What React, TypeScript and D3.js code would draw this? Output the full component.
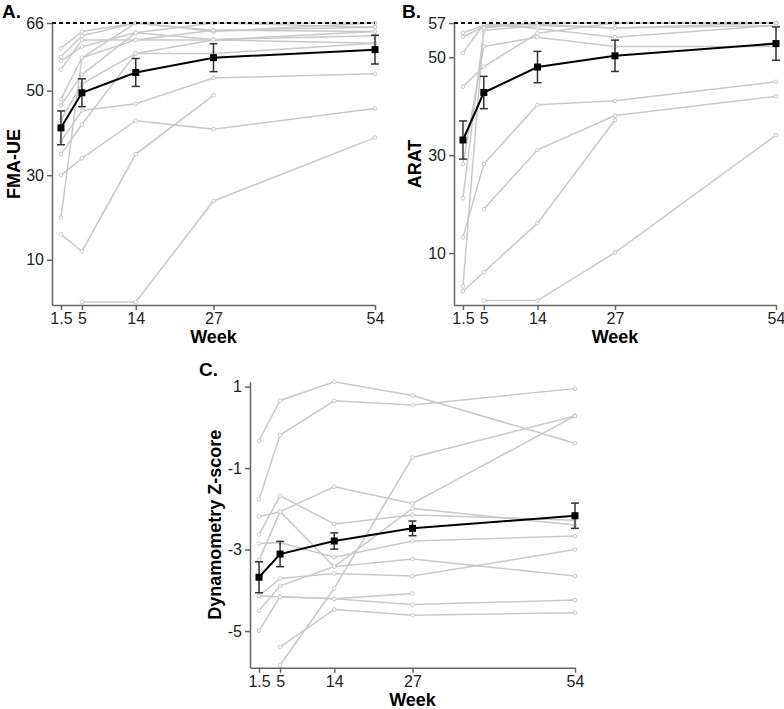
import React, { useRef, useEffect } from "react";
import * as d3 from "d3";

const weeks = [1.5, 5, 14, 27, 54];

// FMA-UE (panel A)
const fmaTicks = [10, 30, 50, 66];
const fmaMean = [41.2, 49.5, 54.3, 57.8, 59.7];
const fmaErr = [4.0, 3.3, 3.3, 3.3, 3.4];
const fmaSubjects: (number | null)[][] = [
  [60, 64, 66, 66, 66],
  [58, 63, 66, 64, 66],
  [57, 60.4, 63.7, 66, 65],
  [55, 62, 62, 62, 64],
  [48, 57.8, 66, 64.3, 65],
  [46.5, 53.8, 63.7, 62.1, 63],
  [43, 51.6, 58.8, 62, 61.2],
  [38, 45.3, 46.9, 53, 54],
  [35, 42, 58.8, 58.8, 61.2],
  [30, 34, 42.9, 40.9, 45.8],
  [20, 57.8, 62, 64.3, 64],
  [16, 12, 35, 48.9, null],
  [null, 0, 0, 23.9, 38.9],
];

// ARAT (panel B)
const aratTicks = [10, 30, 50, 57];
const aratMean = [33.1, 42.8, 48.0, 50.3, 52.8];
const aratErr = [3.9, 3.3, 3.2, 3.2, 3.4];
const aratSubjects: (number | null)[][] = [
  [55, 56.5, 57, 57, 57],
  [54.2, 56.2, 56.8, 56, 57],
  [50.9, 56.8, 55.9, 54.1, 56.5],
  [44, 48.1, 54.9, 57, 57],
  [28.2, 52.2, 54.1, 52.2, 52.2],
  [21.2, 55.5, 56.5, 56, 56.5],
  [13.2, 28.2, 40.3, 41.1, 45],
  [3.2, 56, 57, 57, 57],
  [2.2, 6.1, 16.1, 37.2, null],
  [null, 19, 31.1, 38.1, 42],
  [null, 0.3, 0.3, 10.1, 34.1],
];

// Dynamometry Z-score (panel C)
const dynTicks = [-5, -3, -1, 1];
const dynMean = [-3.68, -3.11, -2.79, -2.48, -2.17];
const dynErr = [0.38, 0.31, 0.2, 0.18, 0.31];
const dynSubjects: (number | null)[][] = [
  [-0.33, 0.66, 1.12, 0.78, -0.39],
  [-1.77, -0.19, 0.65, 0.55, 0.95],
  [-2.19, -2.07, -1.46, -1.87, 0.28],
  [null, -5.84, -3.95, -0.74, 0.28],
  [-2.63, -1.68, -2.37, -2.15, -2.28],
  [-2.85, -2.83, -3.19, -2.79, -2.67],
  [-3.26, -2.07, -3.42, -3.23, -3.65],
  [-4.14, -3.71, -3.59, -3.65, -3.0],
  [-4.5, -3.89, -3.42, -1.99, -2.4],
  [-4.99, -4.16, -4.21, -4.35, -4.24],
  [null, -5.39, -4.47, -4.61, -4.55],
  [-4.14, -4.16, -4.21, -4.08, null],
];

const font = "Arial, 'Liberation Sans', sans-serif";

const panels = [
  {
    tag: "A.", yTitle: "FMA-UE", subjects: fmaSubjects, mean: fmaMean, err: fmaErr,
    ticks: fmaTicks, yDomain: [-0.7, 66], ref: 66,
    left: 52, right: 375, top: 23, bottom: 305, tagX: 2, tagY: 18, titleX: 20,
  },
  {
    tag: "B.", yTitle: "ARAT", subjects: aratSubjects, mean: aratMean, err: aratErr,
    ticks: aratTicks, yDomain: [-0.6, 57], ref: 57,
    left: 454, right: 776, top: 23, bottom: 305, tagX: 402, tagY: 18, titleX: 421,
  },
  {
    tag: "C.", yTitle: "Dynamometry Z-score", subjects: dynSubjects, mean: dynMean, err: dynErr,
    ticks: dynTicks, yDomain: [-5.9, 1.12], ref: null,
    left: 250, right: 575, top: 381.7, bottom: 667.7, tagX: 199, tagY: 376, titleX: 221,
  },
];

export default function App() {
  const svgRef = useRef<SVGSVGElement>(null);

  useEffect(() => {
    const svg = d3.select(svgRef.current);
    svg.selectAll("*").remove();

    panels.forEach((p) => {
      const x = d3.scaleLinear().domain([0, 54]).range([p.left, p.right]);
      const y = d3.scaleLinear().domain(p.yDomain).range([p.bottom, p.top]);
      const g = svg.append("g");

      // individual subjects
      const line = d3
        .line<number | null>()
        .defined((d) => d !== null)
        .x((d, i) => x(weeks[i]))
        .y((d) => y(d as number));

      p.subjects.forEach((s) => {
        g.append("path")
          .attr("d", line(s))
          .attr("fill", "none")
          .attr("stroke", "#c9c9c9")
          .attr("stroke-width", 1.5);
        g.selectAll(null)
          .data(s.map((v, i) => ({ v, w: weeks[i] })).filter((d) => d.v !== null))
          .join("circle")
          .attr("cx", (d) => x(d.w))
          .attr("cy", (d) => y(d.v as number))
          .attr("r", 1.8)
          .attr("fill", "#fff")
          .attr("stroke", "#c9c9c9")
          .attr("stroke-width", 1);
      });

      // reference (max score)
      if (p.ref !== null) {
        g.append("line")
          .attr("x1", p.left)
          .attr("x2", p.right)
          .attr("y1", y(p.ref))
          .attr("y2", y(p.ref))
          .attr("stroke", "#000")
          .attr("stroke-width", 2)
          .attr("stroke-dasharray", "4,3");
      }

      // axes
      const yAxis = g
        .append("g")
        .attr("transform", `translate(${p.left},0)`)
        .call(
          d3.axisLeft(y).tickValues(p.ticks).tickSize(5).tickSizeOuter(0).tickPadding(3)
            .tickFormat((d) => String(d))
        );
      const xAxis = g
        .append("g")
        .attr("transform", `translate(0,${p.bottom})`)
        .call(
          d3.axisBottom(x).tickValues(weeks).tickSize(5).tickSizeOuter(0).tickPadding(3)
            .tickFormat((d) => String(d))
        );
      [yAxis, xAxis].forEach((a) => {
        a.selectAll("path, line").attr("stroke", "#666").attr("stroke-width", 1.5);
        a.selectAll("text").attr("font-family", font).attr("font-size", 16).attr("fill", "#222");
      });

      // mean line with error bars
      const meanLine = d3
        .line<number>()
        .x((d, i) => x(weeks[i]))
        .y((d) => y(d));
      g.append("path")
        .attr("d", meanLine(p.mean))
        .attr("fill", "none")
        .attr("stroke", "#000")
        .attr("stroke-width", 2);
      p.mean.forEach((m, i) => {
        const cx = x(weeks[i]);
        const lo = y(m - p.err[i]);
        const hi = y(m + p.err[i]);
        g.append("line").attr("x1", cx).attr("x2", cx).attr("y1", lo).attr("y2", hi)
          .attr("stroke", "#333").attr("stroke-width", 1.5);
        [lo, hi].forEach((yy) =>
          g.append("line").attr("x1", cx - 4).attr("x2", cx + 4).attr("y1", yy).attr("y2", yy)
            .attr("stroke", "#333").attr("stroke-width", 1.5)
        );
        g.append("rect").attr("x", cx - 3.5).attr("y", y(m) - 3.5)
          .attr("width", 7).attr("height", 7).attr("fill", "#000");
      });

      // titles
      g.append("text")
        .attr("x", p.tagX)
        .attr("y", p.tagY)
        .attr("font-family", font)
        .attr("font-weight", "bold")
        .attr("font-size", 19)
        .text(p.tag);
      g.append("text")
        .attr("transform", `translate(${p.titleX},${(p.top + p.bottom) / 2}) rotate(-90)`)
        .attr("text-anchor", "middle")
        .attr("font-family", font)
        .attr("font-weight", "bold")
        .attr("font-size", 18)
        .text(p.yTitle);
      g.append("text")
        .attr("x", (p.left + p.right) / 2)
        .attr("y", p.bottom + 38)
        .attr("text-anchor", "middle")
        .attr("font-family", font)
        .attr("font-weight", "bold")
        .attr("font-size", 18)
        .text("Week");
    });
  }, []);

  return (
    <svg
      ref={svgRef}
      width={784}
      height={709}
      style={{ position: "absolute", left: 0, top: 0, background: "#fff" }}
    />
  );
}
